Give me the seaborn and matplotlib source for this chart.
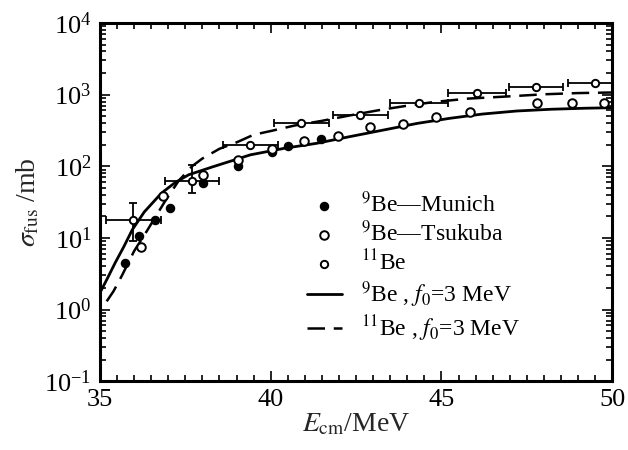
import matplotlib
matplotlib.use("Agg")
import matplotlib.pyplot as plt
import seaborn as sns
from matplotlib.ticker import LogLocator, MultipleLocator, NullFormatter

# --- data ---
# theory, 9Be, f0 = 3 MeV (solid)
e_9be = [35.0, 35.2, 35.45, 35.7, 35.95, 36.3, 36.8, 37.2, 37.6, 38.3, 39.0,
         39.4, 40.4, 41.35, 42.3, 43.3, 44.3, 45.25, 46.2, 47.2, 48.2, 49.2, 50.0]
sig_9be = [1.7, 2.6, 4.5, 7.5, 13, 23, 42, 59, 76, 98, 125,
           144, 178, 209, 258, 320, 397, 467, 535, 590, 624, 645, 656]

# theory, 11Be, f0 = 3 MeV (dashed)
e_11be = [35.2, 35.4, 35.65, 36.0, 36.4, 36.9, 37.3, 37.7, 38.0, 38.5, 39.0,
          39.5, 40.0, 40.7, 41.5, 42.3, 43.2, 44.0, 44.8, 45.8, 46.9, 48.0, 49.0, 50.0]
sig_11be = [1.3, 1.8, 3.0, 6.5, 13, 32, 62, 100, 128, 175, 215,
            275, 310, 370, 430, 510, 610, 700, 790, 880, 940, 1010, 1050, 1070]

# 9Be - Munich (filled)
e_munich = [35.75, 36.15, 36.6, 37.05, 38.03, 39.04, 40.03, 40.52, 41.47]
sig_munich = [4.5, 10.5, 18, 26, 59, 100, 160, 192, 237]

# 9Be - Tsukuba (open)
e_tsukuba = [36.2, 36.85, 38.03, 39.04, 40.03, 40.99, 41.96, 42.9, 43.87,
             44.85, 45.84, 47.8, 48.82, 49.75]
sig_tsukuba = [7.5, 38, 76, 122, 172, 225, 263, 355, 390,
               485, 575, 760, 770, 760]

# 11Be data with energy bins
e_be11 = [35.98, 37.7, 39.4, 40.9, 42.62, 44.33, 46.04, 47.77, 49.5]
sig_be11 = [17.5, 63, 200, 400, 520, 775, 1050, 1260, 1440]
de_be11 = [0.8, 0.8, 0.8, 0.8, 0.8, 0.85, 0.85, 0.8, 0.8]
dsig_lo = [8.5, 21, 0, 0, 0, 0, 0, 0, 0]
dsig_hi = [13.5, 42, 0, 0, 0, 0, 0, 0, 0]

sns.set_theme(style="ticks")
plt.rcParams["font.family"] = ["Liberation Serif", "DejaVu Serif"]
plt.rcParams["mathtext.fontset"] = "stix"

fig = plt.figure(figsize=(6.28, 4.5), dpi=100)
ax = fig.add_axes([0.159, 0.153, 0.816, 0.796])

sns.lineplot(x=e_9be, y=sig_9be, ax=ax, color="black", lw=2.0,
             sort=False, estimator=None, label=r"$^{9}$Be , $f_0$=3 MeV")
sns.lineplot(x=e_11be, y=sig_11be, ax=ax, color="black", lw=1.8,
             sort=False, estimator=None, linestyle=(0, (7, 3.5)),
             label=r"$^{11}$Be , $f_0$=3 MeV")

ax.errorbar(e_be11, sig_be11, xerr=de_be11, yerr=[dsig_lo, dsig_hi],
            fmt="none", ecolor="black", elinewidth=1.3, capsize=3, capthick=1.3)

sns.scatterplot(x=e_munich, y=sig_munich, ax=ax, color="black", s=34,
                edgecolor="black", linewidth=1, label=r"$^{9}$Be—Munich", zorder=5)
sns.scatterplot(x=e_tsukuba, y=sig_tsukuba, ax=ax, facecolor="white", s=38,
                edgecolor="black", linewidth=1.4, label=r"$^{9}$Be—Tsukuba", zorder=5)
sns.scatterplot(x=e_be11, y=sig_be11, ax=ax, facecolor="white", s=28,
                edgecolor="black", linewidth=1.4, label=r"$^{11}$Be", zorder=6)

ax.set_yscale("log")
ax.set_xlim(35, 50)
ax.set_ylim(0.1, 1e4)
ax.xaxis.set_major_locator(MultipleLocator(5))
ax.xaxis.set_minor_locator(MultipleLocator(0.5))
ax.yaxis.set_major_locator(LogLocator(base=10, numticks=10))
ax.yaxis.set_minor_locator(LogLocator(base=10, subs=range(2, 10), numticks=10))
ax.yaxis.set_minor_formatter(NullFormatter())
ax.tick_params(which="both", direction="in", top=True, right=True,
               labelsize=19, width=1.2, colors="black")
ax.tick_params(which="major", length=7, pad=6)
ax.tick_params(which="minor", length=4)
for sp in ax.spines.values():
    sp.set_linewidth(2.2)
    sp.set_color("black")

ax.set_xlabel(r"$E_{\rm cm}$/MeV", fontsize=20, labelpad=0)
ax.set_ylabel(r"$\sigma_{\rm fus}$ /mb", fontsize=20, labelpad=2)

handles, labels = ax.get_legend_handles_labels()
order = [labels.index(l) for l in [r"$^{9}$Be—Munich", r"$^{9}$Be—Tsukuba", r"$^{11}$Be",
                                   r"$^{9}$Be , $f_0$=3 MeV", r"$^{11}$Be , $f_0$=3 MeV"]]
ax.legend([handles[i] for i in order], [labels[i] for i in order],
          loc="upper left", bbox_to_anchor=(0.385, 0.555), frameon=False,
          fontsize=17, handlelength=1.5, handletextpad=0.8, labelspacing=0.15,
          borderaxespad=0, labelcolor="black")

plt.savefig("out.png", dpi=100)
